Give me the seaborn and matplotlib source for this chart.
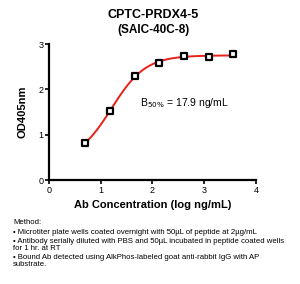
import numpy as np
import pandas as pd
import matplotlib
matplotlib.use("Agg")
import matplotlib.pyplot as plt
import seaborn as sns

# Data
log_conc = [0.70, 1.18, 1.66, 2.13, 2.61, 3.09, 3.56]
od405 = [0.82, 1.52, 2.29, 2.59, 2.74, 2.71, 2.77]
title_lines = ["CPTC-PRDX4-5", "(SAIC-40C-8)"]
x_ticks = [0, 1, 2, 3, 4]
y_ticks = [0, 1, 2, 3]
b50_label = r"B$_{50\%}$ = 17.9 ng/mL"
method_lines = [
    "Method:",
    "\u2022 Microtiter plate wells coated overnight with 50\u00b5L of peptide at 2\u00b5g/mL",
    "\u2022 Antibody serially diluted with PBS and 50\u00b5L incubated in peptide coated wells",
    "for 1 hr. at RT",
    "\u2022 Bound Ab detected using AlkPhos-labeled goat anti-rabbit IgG with AP",
    "substrate.",
]

sns.set_style("ticks")
plt.rcParams["font.family"] = ["Liberation Sans", "DejaVu Sans"]
plt.rcParams["text.color"] = "black"
plt.rcParams["axes.labelcolor"] = "black"
plt.rcParams["xtick.color"] = "black"
plt.rcParams["ytick.color"] = "black"

df = pd.DataFrame({"x": log_conc, "y": od405})

# 4-parameter logistic fit (grid over EC50/Hill, linear LSQ for bottom/top)
xd = np.array(log_conc)
yd = np.array(od405)
best = None
for c in np.linspace(0.6, 2.0, 141):
    for h in np.linspace(0.5, 3.0, 126):
        f = 1.0 / (1.0 + 10 ** ((c - xd) * h))
        A = np.column_stack([1 - f, f])
        coef, *_ = np.linalg.lstsq(A, yd, rcond=None)
        err = np.sum((A @ coef - yd) ** 2)
        if best is None or err < best[0]:
            best = (err, c, h, coef)
_, c, h, (bot, top) = best
xs = np.linspace(min(log_conc), max(log_conc), 200)
fs = 1.0 / (1.0 + 10 ** ((c - xs) * h))
fit = pd.DataFrame({"x": xs, "y": bot * (1 - fs) + top * fs})

fig = plt.figure(figsize=(3.0, 2.84), dpi=100)
ax = fig.add_axes([0.163, 0.366, 0.69, 0.479])

sns.lineplot(data=fit, x="x", y="y", ax=ax, color="#e8201a", linewidth=1.4, zorder=2)
sns.scatterplot(data=df, x="x", y="y", ax=ax, marker="s", s=24,
                facecolor="white", edgecolor="black", linewidth=1.6, zorder=3)

ax.set_xlim(0, 4)
ax.set_ylim(0, 3)
ax.set_xticks(x_ticks)
ax.set_yticks(y_ticks)
ax.tick_params(axis="both", labelsize=6.5, width=1.2, length=3, pad=1, color="black")
for s in ["top", "right"]:
    ax.spines[s].set_visible(False)
for s in ["left", "bottom"]:
    ax.spines[s].set_linewidth(1.6)
    ax.spines[s].set_color("black")
ax.set_xlabel("Ab Concentration (log ng/mL)", fontsize=8, fontweight="bold", labelpad=4)
ax.set_ylabel("OD405nm", fontsize=8, fontweight="bold", labelpad=8)

fig.text(0.51, 0.947, title_lines[0], ha="center", va="center", fontsize=9, fontweight="bold")
fig.text(0.51, 0.894, title_lines[1], ha="center", va="center", fontsize=8.5, fontweight="bold")

ax.text(1.76, 1.70, b50_label, fontsize=7.5, ha="left", va="center")

ys = [0.215, 0.181, 0.151, 0.125, 0.094, 0.068]
for t, yy in zip(method_lines, ys):
    fig.text(0.043, yy, t, fontsize=5.6, ha="left", va="center")

fig.savefig("out.png", dpi=100)
